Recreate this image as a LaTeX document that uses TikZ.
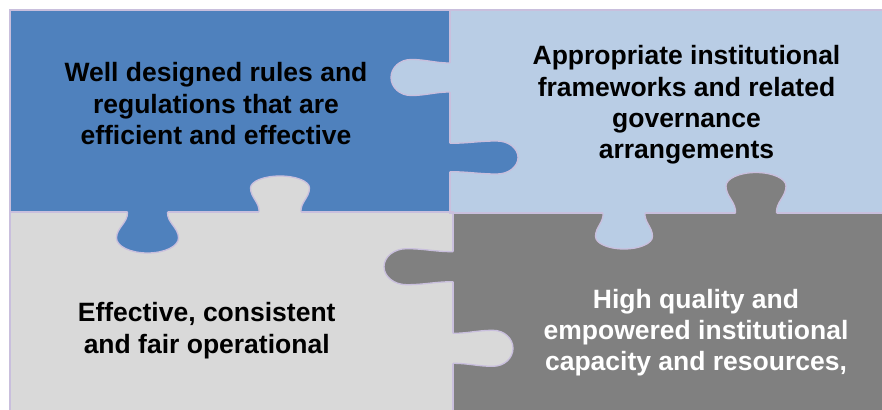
\documentclass[tikz,border=0pt]{standalone}
\usepackage{fontspec}
\setmainfont{Liberation Sans}
\definecolor{pblue}{HTML}{4F81BD}
\definecolor{plblue}{HTML}{B9CDE5}
\definecolor{plgrey}{HTML}{D9D9D9}
\definecolor{pgrey}{HTML}{808080}
\definecolor{pline}{HTML}{C9BFDD}
% tab: colour, x, y, angle, length, base half-width, bulb half-width, bulb depth, neck
\newcommand\ptab[9]{%
\begin{scope}[shift={(#2,#3)},rotate=#4]
\pgfmathsetmacro\pa{#5-#8}
\fill[#1] (-2.5,-#6) -- (0,-#6) .. controls (0.4*\pa,-#6+#9) and (0.6*\pa,-#7) .. (\pa,-#7)
  arc[start angle=-90,end angle=90,x radius=#8,y radius=#7]
  .. controls (0.6*\pa,#7) and (0.4*\pa,#6-#9) .. (0,#6) -- (-2.5,#6) -- cycle;
\draw[outl] (0,-#6) .. controls (0.4*\pa,-#6+#9) and (0.6*\pa,-#7) .. (\pa,-#7)
  arc[start angle=-90,end angle=90,x radius=#8,y radius=#7]
  .. controls (0.6*\pa,#7) and (0.4*\pa,#6-#9) .. (0,#6);
\end{scope}}
\begin{document}
\begin{tikzpicture}[x=1pt,y=1pt,
  outl/.style={draw=pline,line width=1.3pt},
  ptext/.style={font=\fontsize{26.5}{31.2}\selectfont\bfseries,align=center,anchor=north,inner sep=0pt}]
\useasboundingbox (0,0) rectangle (882,-409);
\fill[white] (0,0) rectangle (882,-409);
\begin{scope}
\clip (0,0) rectangle (882,-409);
\fill[plblue] (450,-10) rectangle (900,-213);
\fill[pgrey] (453,-213) rectangle (900,-430);
\fill[pblue] (10,-10) rectangle (450,-212);
\fill[plgrey] (10,-212) rectangle (453,-430);
\draw[outl] (450,-10) rectangle (900,-213);
\draw[outl] (453,-213) rectangle (900,-430);
\draw[outl] (10,-10) rectangle (450,-212);
\draw[outl] (10,-212) rectangle (453,-430);
% side tabs
\ptab{plblue}{450}{-77.5}{180}{59}{14.5}{18}{20}{0}
\ptab{pblue}{450}{-157.5}{0}{68}{14.2}{16.5}{21}{0}
\ptab{pgrey}{453}{-266.7}{180}{69}{15}{18}{22.5}{0}
\ptab{plgrey}{453}{-348.3}{0}{60}{15}{18}{20}{0}
% vertical knobs
\ptab{plgrey}{280}{-212}{90}{36}{21}{29.5}{12}{0.8}
\ptab{pblue}{147.5}{-212}{-90}{41}{20}{31}{15}{0.8}
\ptab{pgrey}{756}{-213}{90}{40.5}{20.5}{30}{13.5}{0.8}
\ptab{plblue}{624}{-213}{-90}{36}{21}{28.5}{12.6}{0.8}
\end{scope}
\node[ptext] (tl) at (216,-62.4) {Well designed rules and\\regulations that are\\efficient and effective};
\node[ptext] (tr) at (686.5,-45.4) {Appropriate institutional\\frameworks and related\\governance\\arrangements};
\node[ptext] (bl) at (206.7,-302.4) {Effective, consistent\\and fair operational};
\node[ptext,text=white] (br) at (696,-288.7) {High quality and\\empowered institutional\\capacity and resources,};
\end{tikzpicture}
\end{document}
